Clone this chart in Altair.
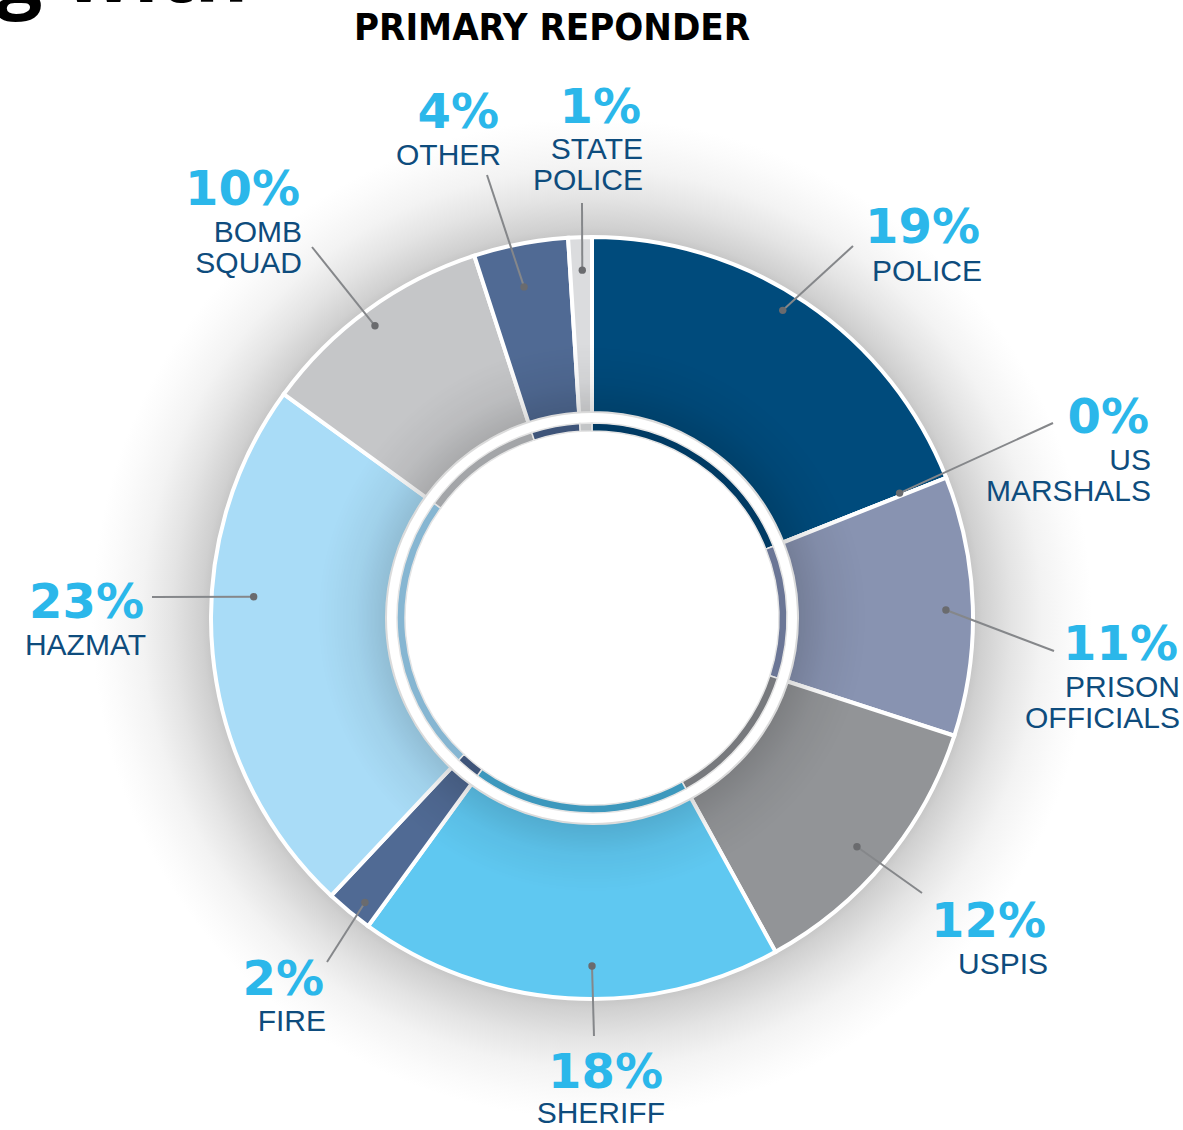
import math
import altair as alt
import pandas as pd

# ---------------- data ----------------
categories = ["POLICE", "US MARSHALS", "PRISON OFFICIALS", "USPIS", "SHERIFF",
              "FIRE", "HAZMAT", "BOMB SQUAD", "OTHER", "STATE POLICE"]
name_lines = [["POLICE"], ["US", "MARSHALS"], ["PRISON", "OFFICIALS"], ["USPIS"], ["SHERIFF"],
              ["FIRE"], ["HAZMAT"], ["BOMB", "SQUAD"], ["OTHER"], ["STATE", "POLICE"]]
percents = [19, 0, 11, 12, 18, 2, 23, 10, 4, 1]

# ---------------- styles ----------------
colors = ["#004b7c", "#8993b1", "#8893b1", "#929497", "#5fc8f1",
          "#506a94", "#a9dcf7", "#c5c6c8", "#506a94", "#dbdcde"]
inner_colors = ["#003a63", "#6b7696", "#6b7696", "#77797d", "#3d98bd",
                "#3e5479", "#86b6d2", "#a3a5a8", "#3e5479", "#c3c5c7"]
PCT_COLOR = "#2bb7ea"
NAME_COLOR = "#0e4c7d"
LINE_COLOR = "#85878a"
DOT_COLOR = "#6a6b6e"

W, H = 1183, 1130
CX, CY = 592, 618
R_OUT, R_IN = 381, 205
RING_OUT, RING_IN = 195, 187

# label layout (pixel positions on the page) and dot placement (radius, angle tweak)
LAYOUT = {
    "POLICE":           dict(right=980,  pct=243,  name=281,  end=(853, 246),  dot=(362, -2.4)),
    "US MARSHALS":      dict(right=1149, pct=433,  name=470,  end=(1053, 423), dot=(332, -0.5)),
    "PRISON OFFICIALS": dict(right=1178, pct=660,  name=697,  end=(1054, 651), dot=(354, 0.5)),
    "USPIS":            dict(right=1046, pct=937,  name=974,  end=(922, 893),  dot=(350, 1.2)),
    "SHERIFF":          dict(right=663,  pct=1088, name=1123, end=(594, 1036), dot=(348, -3.6)),
    "FIRE":             dict(right=324,  pct=995,  name=1031, end=(327, 962),  dot=(364, -1.0)),
    "HAZMAT":           dict(right=144,  pct=618,  name=655,  end=(152, 597),  dot=(339, 9.0)),
    "BOMB SQUAD":       dict(right=300,  pct=205,  name=242,  end=(312, 247),  dot=(364, -0.6)),
    "OTHER":            dict(right=499,  pct=128,  name=165,  end=(487, 175),  dot=(338, -0.8)),
    "STATE POLICE":     dict(right=641,  pct=123,  name=159,  end=(582, 203),  dot=(348, 0.2)),
}
LINE_GAP = 31

# ---------------- tables ----------------
df = pd.DataFrame({"category": categories, "value": percents, "idx": range(len(categories))})

dots, texts_pct, texts_name = [], [], []
cum = 0
for cat, p, lines in zip(categories, percents, name_lines):
    mid = (cum + p / 2) / 100 * 360
    cum += p
    lay = LAYOUT[cat]
    r, tweak = lay["dot"]
    a = math.radians(mid + tweak)
    dx, dy = r * math.sin(a), -r * math.cos(a)
    ex, ey = lay["end"][0] - CX, lay["end"][1] - CY
    dots.append({"category": cat, "x": dx, "y": dy, "x2": ex, "y2": ey})
    texts_pct.append({"category": cat, "text": f"{p}%", "x": lay["right"] - CX, "y": lay["pct"] - CY})
    for k, ln in enumerate(lines):
        texts_name.append({"category": cat, "text": ln, "x": lay["right"] + 2 - CX,
                           "y": lay["name"] + k * LINE_GAP - CY})

dots_df = pd.DataFrame(dots)
pct_df = pd.DataFrame(texts_pct)
name_df = pd.DataFrame(texts_name)

xscale = alt.Scale(domain=[-CX, W - CX], range=[0, W], nice=False, zero=False)
yscale = alt.Scale(domain=[-CY, H - CY], range=[0, H], nice=False, zero=False)

one = pd.DataFrame({"a": [0]})

# soft glow around the donut
glow = alt.Chart(one).mark_arc(
    theta=0, theta2=2 * math.pi, innerRadius=R_OUT - 3, outerRadius=500,
    color={"gradient": "radial", "x1": 0.5, "y1": 0.5, "r1": 0, "x2": 0.5, "y2": 0.5, "r2": 0.5,
           "stops": [{"offset": 0.0, "color": "#c4c4c4"},
                     {"offset": 0.76, "color": "#c4c4c4"},
                     {"offset": 0.78, "color": "#d0d0d0"},
                     {"offset": 0.84, "color": "#e4e4e4"},
                     {"offset": 0.90, "color": "#f3f3f3"},
                     {"offset": 0.96, "color": "#fbfbfb"},
                     {"offset": 1.0, "color": "#ffffff"}]}
).encode(x=alt.value(CX), y=alt.value(CY))

theta_enc = alt.Theta("value:Q", stack=True)

segments = alt.Chart(df).mark_arc(
    innerRadius=R_IN, outerRadius=R_OUT, stroke="white", strokeWidth=4
).encode(
    theta=theta_enc,
    order=alt.Order("idx:Q"),
    color=alt.Color("category:N", scale=alt.Scale(domain=categories, range=colors), legend=None),
    x=alt.value(CX), y=alt.value(CY),
)

# inner shading of segments
shade = alt.Chart(one).mark_arc(
    theta=0, theta2=2 * math.pi, innerRadius=R_IN, outerRadius=R_OUT,
    color={"gradient": "radial", "x1": 0.5, "y1": 0.5, "r1": 0, "x2": 0.5, "y2": 0.5, "r2": 0.5,
           "stops": [{"offset": 0.0, "color": "rgba(0,0,0,0.14)"},
                     {"offset": 0.54, "color": "rgba(0,0,0,0.14)"},
                     {"offset": 0.62, "color": "rgba(0,0,0,0.05)"},
                     {"offset": 0.72, "color": "rgba(0,0,0,0)"},
                     {"offset": 1.0, "color": "rgba(0,0,0,0)"}]}
).encode(x=alt.value(CX), y=alt.value(CY))

ring = alt.Chart(df).mark_arc(
    innerRadius=RING_IN, outerRadius=RING_OUT, stroke="#e4e4e4", strokeWidth=1.5
).encode(
    theta=theta_enc,
    order=alt.Order("idx:Q"),
    color=alt.Color("category:N", scale=alt.Scale(domain=categories, range=inner_colors), legend=None),
    x=alt.value(CX), y=alt.value(CY),
)

leaders = alt.Chart(dots_df).mark_rule(color=LINE_COLOR, strokeWidth=2).encode(
    x=alt.X("x:Q", scale=xscale, axis=None), y=alt.Y("y:Q", scale=yscale, axis=None),
    x2="x2:Q", y2="y2:Q",
)
dot_marks = alt.Chart(dots_df).mark_circle(size=55, color=DOT_COLOR, opacity=1).encode(
    x=alt.X("x:Q", scale=xscale, axis=None), y=alt.Y("y:Q", scale=yscale, axis=None),
)

pct_text = alt.Chart(pct_df).mark_text(
    font="DejaVu Sans", fontWeight="bold", fontSize=48, color=PCT_COLOR,
    align="right", baseline="alphabetic"
).encode(
    x=alt.X("x:Q", scale=xscale, axis=None), y=alt.Y("y:Q", scale=yscale, axis=None), text="text:N",
)
name_text = alt.Chart(name_df).mark_text(
    font="Liberation Sans", fontSize=30, color=NAME_COLOR,
    align="right", baseline="alphabetic"
).encode(
    x=alt.X("x:Q", scale=xscale, axis=None), y=alt.Y("y:Q", scale=yscale, axis=None), text="text:N",
)

title = alt.Chart(one).mark_text(
    text="PRIMARY REPONDER", font="Liberation Sans Narrow, DejaVu Sans Condensed, Liberation Sans",
    fontWeight="bold", fontSize=38, color="#000000", align="center", baseline="alphabetic"
).encode(x=alt.value(552), y=alt.value(40))

cut_text = alt.Chart(one).mark_text(
    text="g with", font="Open Sans", fontWeight="bold", fontSize=82, color="#000000",
    align="left", baseline="alphabetic"
).encode(x=alt.value(-4), y=alt.value(2))

chart = alt.layer(
    glow, segments, shade, ring, leaders, dot_marks, pct_text, name_text, title, cut_text
).resolve_scale(color="independent").properties(
    width=W, height=H, padding=0, autosize=alt.AutoSizeParams(type="none"), background="white"
).configure_view(stroke=None)

chart.save("out.html", embed_options={"renderer": "svg", "actions": False})
